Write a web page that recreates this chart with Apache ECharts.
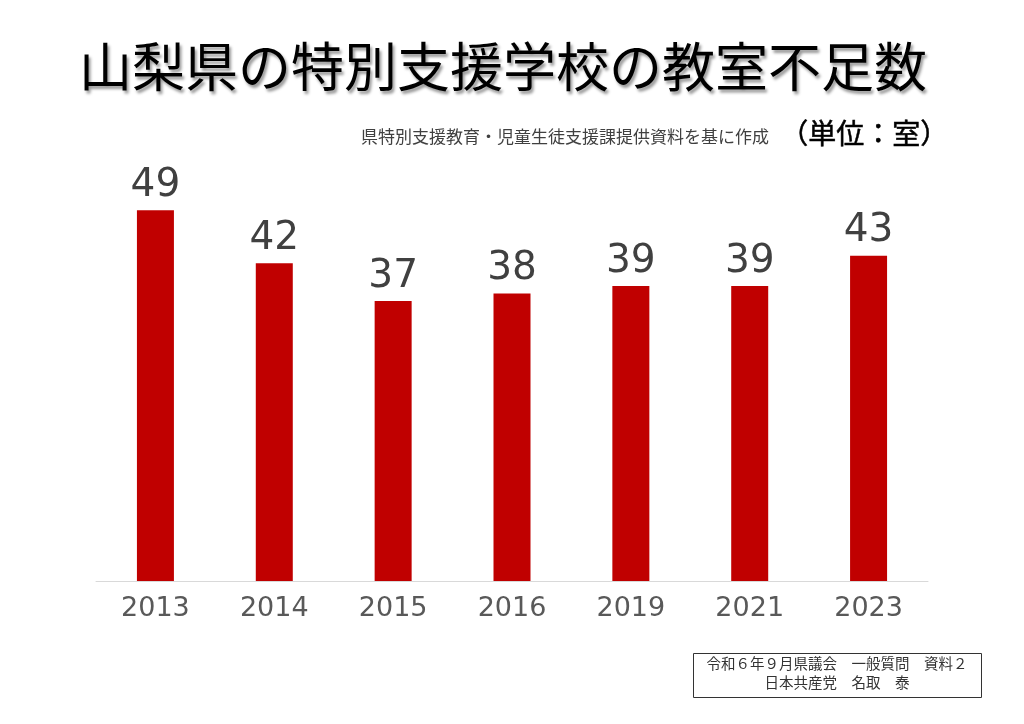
<!DOCTYPE html>
<html>
<head>
<meta charset="utf-8">
<script src="https://cdn.jsdelivr.net/npm/echarts@6/dist/echarts.min.js"></script>
<style>
html,body{margin:0;padding:0;background:#fff;}
#c{width:1024px;height:724px;}
</style>
</head>
<body>
<div id="c"></div>
<script>
const titleText = '山梨県の特別支援学校の教室不足数';
const sourceText = '県特別支援教育・児童生徒支援課提供資料を基に作成';
const unitText = '（単位：室）';
const noteLines = ['令和６年９月県議会　一般質問　資料２', '日本共産党　名取　泰'];
const years = ['2013', '2014', '2015', '2016', '2019', '2021', '2023'];
const shortages = [49, 42, 37, 38, 39, 39, 43];

const chart = echarts.init(document.getElementById('c'));
chart.setOption({
  backgroundColor: '#ffffff',
  animation: false,
  title: [{
    text: titleText,
    left: 74,
    top: 35,
    textStyle: {
      fontFamily: 'Noto Sans CJK JP',
      fontSize: 53,
      fontWeight: 'normal',
      color: '#000',
      textShadowColor: 'rgba(0,0,0,0.4)',
      textShadowBlur: 3,
      textShadowOffsetX: 2,
      textShadowOffsetY: 3
    }
  }],
  graphic: [
    {
      type: 'text', left: 361, top: 128,
      style: { text: sourceText, font: '17px "Noto Sans CJK JP"', fill: '#404040' }
    },
    {
      type: 'text', left: 780, top: 119,
      style: { text: unitText, font: '28px "Noto Sans CJK JP"', fill: '#000', stroke: '#000', lineWidth: 0.5 }
    },
    {
      type: 'rect', left: 693, top: 653,
      shape: { width: 288, height: 44 },
      style: { fill: '#fff', stroke: '#333', lineWidth: 1 }
    },
    {
      type: 'text', x: 837, y: 656,
      style: { text: noteLines[0], font: '14.5px "Noto Sans CJK JP"', fill: '#333', align: 'center' }
    },
    {
      type: 'text', x: 837, y: 675,
      style: { text: noteLines[1], font: '14.5px "Noto Sans CJK JP"', fill: '#333', align: 'center' }
    }
  ],
  grid: { left: 96, right: 96, top: 127, bottom: 143 },
  xAxis: {
    type: 'category',
    data: years,
    axisLine: { lineStyle: { color: '#d9d9d9', width: 1 } },
    axisTick: { show: false },
    axisLabel: { color: '#595959', fontSize: 27, fontFamily: 'DejaVu Sans', margin: 14 }
  },
  yAxis: {
    type: 'value', min: 0, max: 60,
    show: false,
    splitLine: { show: false }
  },
  series: [{
    type: 'bar',
    data: shortages,
    barWidth: 37,
    itemStyle: { color: '#c00000' },
    label: {
      show: true, position: 'top', distance: 5,
      color: '#404040', fontSize: 39, fontFamily: 'DejaVu Sans'
    }
  }]
});
</script>
</body>
</html>
